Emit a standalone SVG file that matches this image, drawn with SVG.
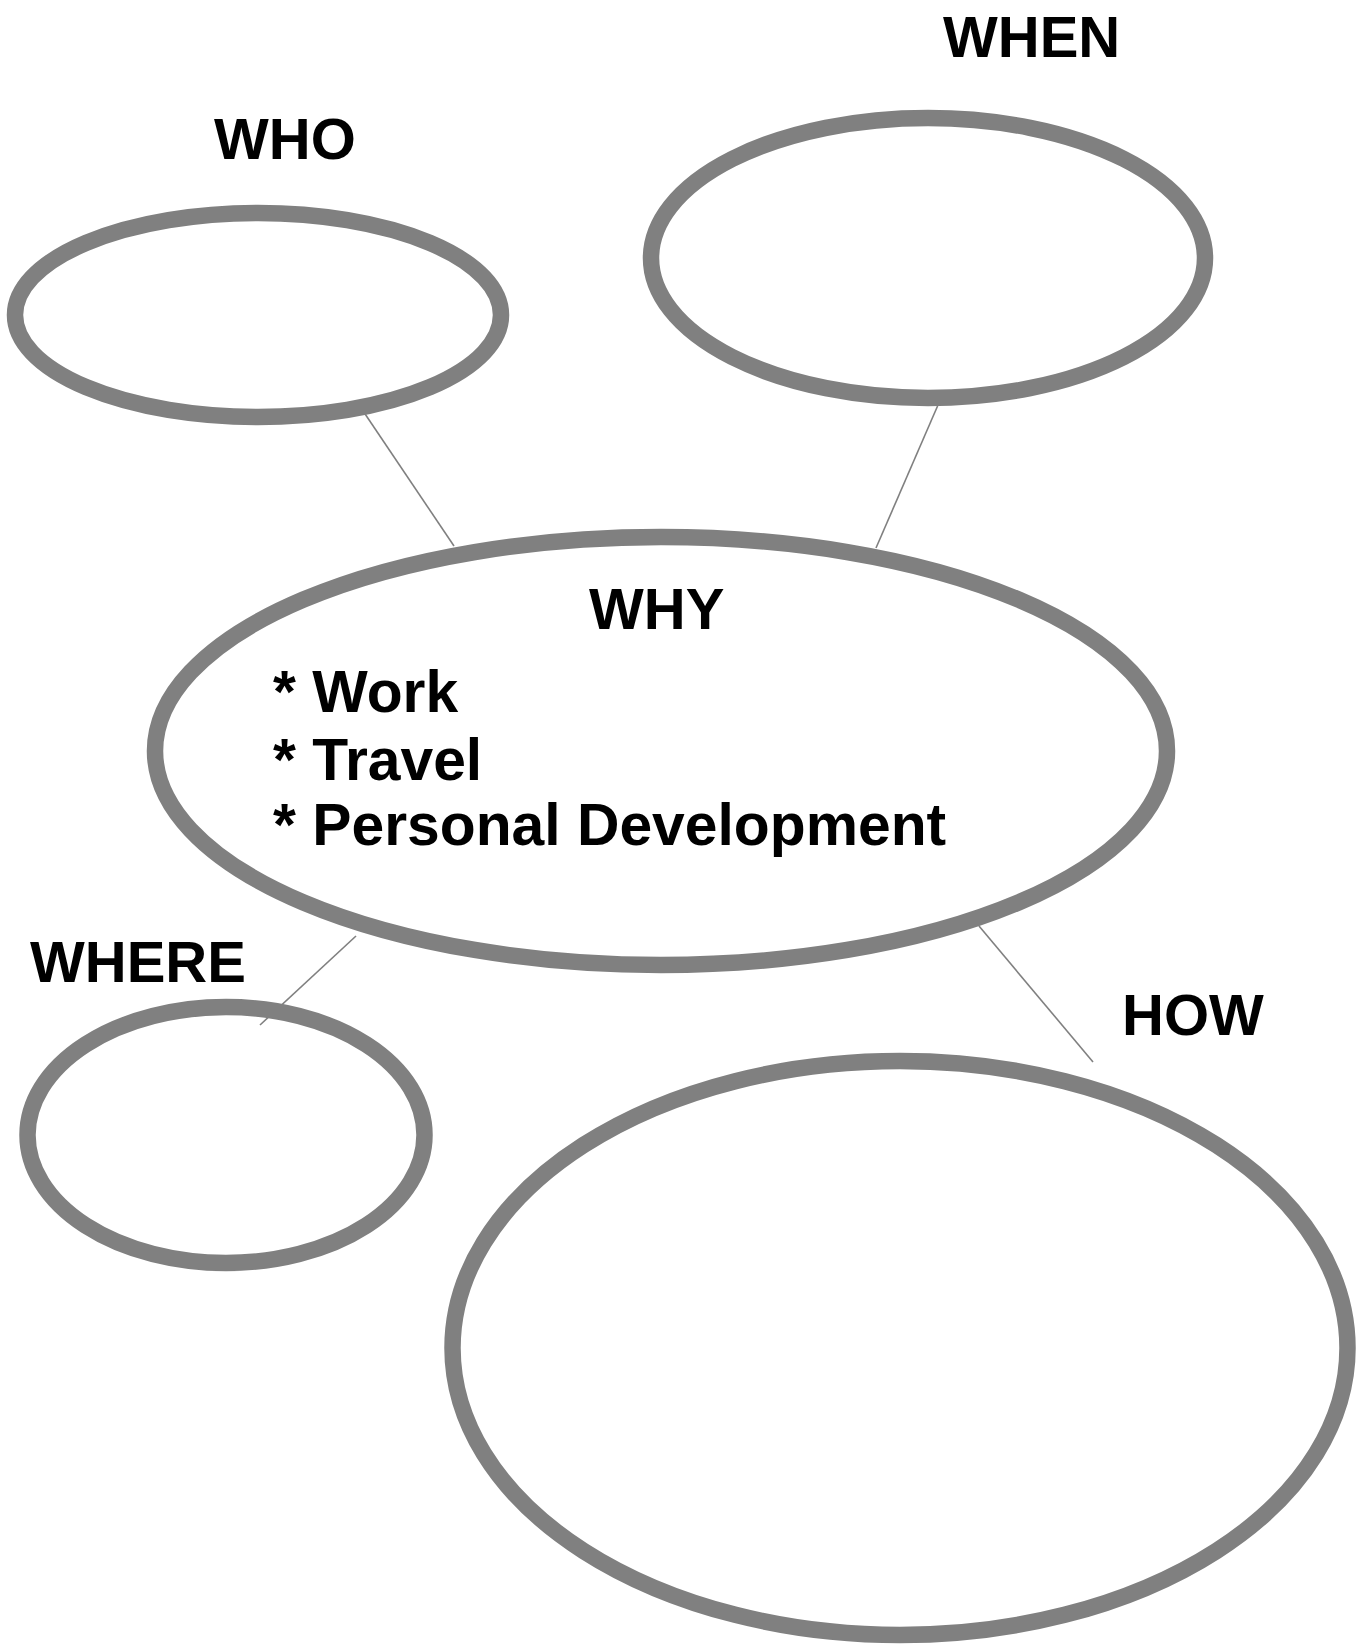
<svg xmlns="http://www.w3.org/2000/svg" width="1364" height="1644" viewBox="0 0 1364 1644">
<style>
.node{fill:none;stroke:#808080;stroke-width:16.5}
.conn line{stroke:#808080;stroke-width:1.6}
text{font-family:"Liberation Sans",Arial,sans-serif;font-weight:bold;font-size:58px;fill:#000}
.item{font-size:58.8px}
</style>
<rect width="1364" height="1644" fill="#fff"/>
<g id="who"><ellipse class="node" cx="258" cy="315" rx="243" ry="102"/><text x="214" y="159">WHO</text></g>
<g id="when"><ellipse class="node" cx="928" cy="258" rx="277" ry="140"/><text x="943" y="57">WHEN</text></g>
<g id="why"><ellipse class="node" cx="661" cy="751" rx="506" ry="214"/><text x="589" y="629">WHY</text>
<text class="item" x="273" y="712">* Work</text><text class="item" x="273" y="780">* Travel</text><text class="item" x="273" y="845">* Personal Development</text></g>
<g id="where"><ellipse class="node" cx="226" cy="1135" rx="198.5" ry="128"/><text x="30" y="982">WHERE</text></g>
<g id="how"><ellipse class="node" cx="900" cy="1348" rx="447.5" ry="287"/><text x="1122" y="1035">HOW</text></g>
<g class="conn" id="connectors">
<line x1="357" y1="402" x2="454" y2="546"/>
<line x1="938" y1="405" x2="876" y2="548"/>
<line x1="356" y1="936" x2="260" y2="1025"/>
<line x1="979" y1="926" x2="1093" y2="1062"/>
</g>
</svg>
